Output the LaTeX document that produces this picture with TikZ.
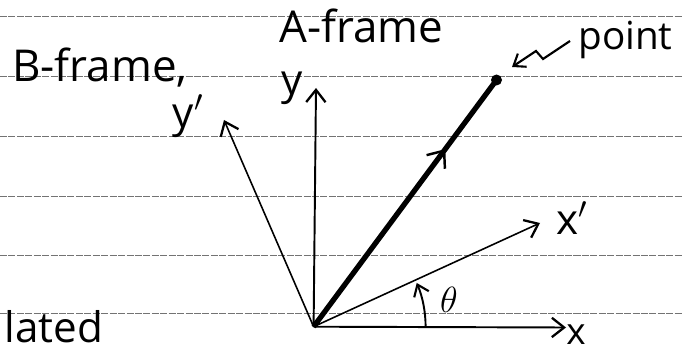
\documentclass[tikz,border=0pt]{standalone}
\usepackage{fontspec}
\setmainfont{Open Sans}
\usetikzlibrary{arrows.meta,decorations.markings}
\begin{document}
\begin{tikzpicture}[x=0.02cm,y=-0.02cm,
  rule/.style={black!55, line width=0.5pt, dash pattern=on 4pt off 0.8pt},
  vec/.style={line width=1.1pt, -{Straight Barb[length=7pt,width=11pt,line width=1.3pt]}},
  hand/.style={font=\fontsize{25}{27}\selectfont, inner sep=0pt},
  small/.style={font=\fontsize{24}{26}\selectfont, inner sep=0pt},
  thickvec/.style={line width=3pt,
    postaction={decorate, decoration={markings,
      mark=at position 0.72 with {\arrow[line width=1.4pt]{Straight Barb[length=8pt,width=13pt]}}}}},
  ]
\useasboundingbox (0,0) rectangle (683,358);
\clip (0,0) rectangle (683,358);
\foreach \yy in {16,76,136,196,255,313} \draw[rule] (0,\yy) -- (683,\yy);
% axes
\coordinate (o) at (313.6,326.7);
\coordinate (xe) at (566,327.5);
\coordinate (ye) at (316,88);
\coordinate (xpe) at (540,223);
\coordinate (ype) at (224,120);
\coordinate (p) at (496.5,80);
\draw[vec] (o) -- (xe);
\draw[vec] (o) -- (ye);
\draw[vec, line width=0.9pt] (o) -- (xpe);
\draw[vec, line width=0.9pt] (o) -- (ype);
\draw[thickvec] (o) -- (p);
\fill (p) circle (5.5);
% theta arc
\draw[line width=1.1pt, -{Straight Barb[length=6pt,width=9pt,line width=1.2pt]}]
  (o) ++(0:112) arc[start angle=0, end angle=-23, radius=112];
% labels
\node[font=\fontsize{21}{23}\selectfont, inner sep=0pt, anchor=base] (lx) at (576,344) {x};
\node[small] (lxp) at (572,218) {x$'$};
\node[small] (ly) at (292,88) {y};
\node[small] (lyp) at (188,116) {y$'$};
\node[font=\fontsize{20}{22}\selectfont, inner sep=0pt] (lt) at (449,300) {$\theta$};
\node[hand, anchor=base west] (af) at (279,43) {A-frame};
\node[hand, anchor=base west] (bf) at (12,82) {B-frame,};
\node[font=\fontsize{22}{24}\selectfont, inner sep=0pt, anchor=base west] (pt) at (578,50) {point};
\coordinate (sq) at (570,41);
\draw[line width=1.2pt, -{Straight Barb[length=6pt,width=9pt,line width=1.2pt]}]
  (sq) -- (543,59) -- (536,51) -- (512,67);
\node[font=\fontsize{24}{26}\selectfont, inner sep=0pt, anchor=base west] (lt2) at (4,342) {lated};
\end{tikzpicture}
\end{document}
